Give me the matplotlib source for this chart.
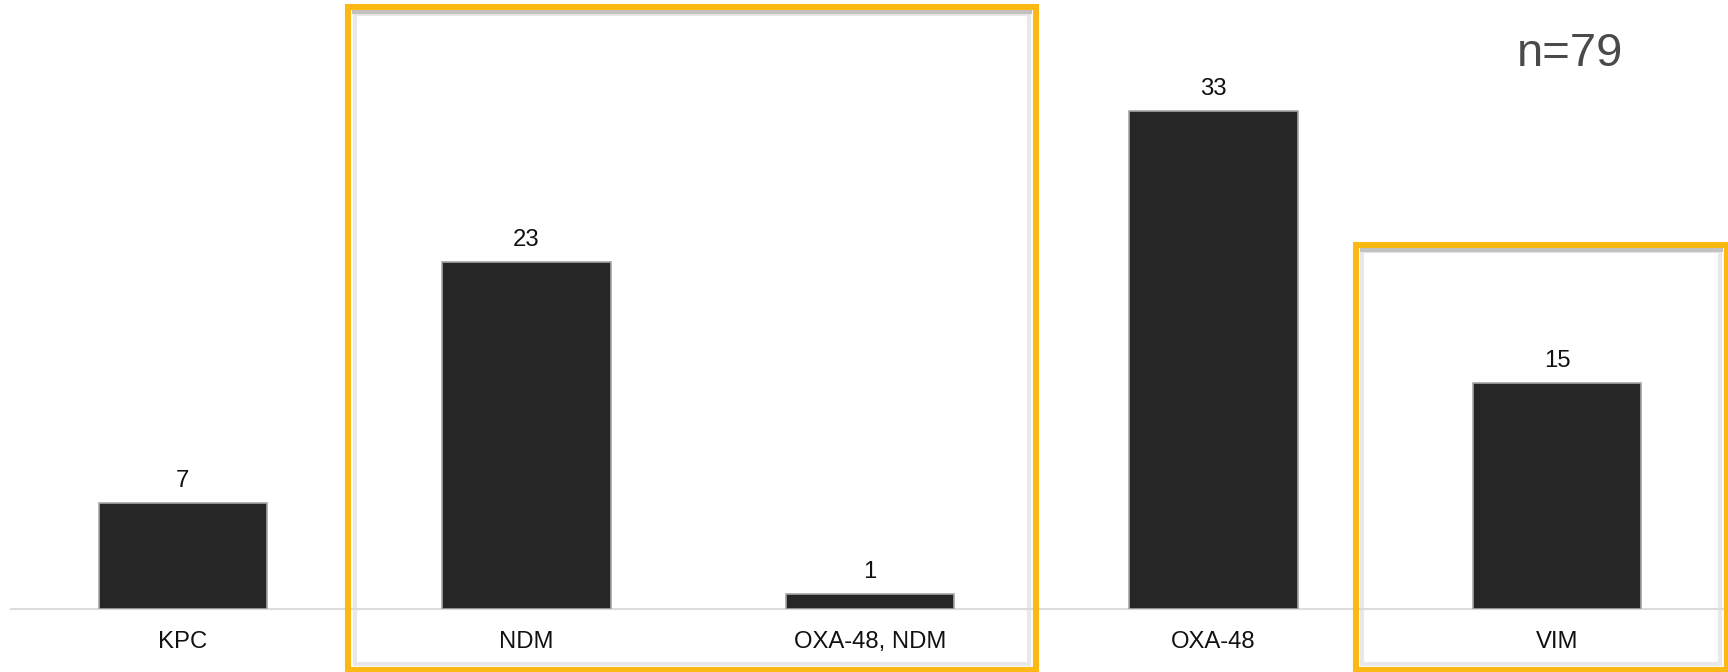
import matplotlib
matplotlib.use("Agg")
import matplotlib.pyplot as plt
from matplotlib.patches import Rectangle

plt.rcParams['font.family'] = ['Liberation Sans', 'DejaVu Sans']

# Carbapenemase types and isolate counts
categories = ["KPC", "NDM", "OXA-48, NDM", "OXA-48", "VIM"]
counts = [7, 23, 1, 33, 15]
total_label = "n=79"

# Highlight frames: (x0, x1, y0, y1) in data units (line centres)
highlight_boxes = [
    (0.481, 2.483, -4.04, 39.87),
    (3.414, 4.494, -4.04, 24.11),
]

W, H, DPI = 1729, 673, 100
fig = plt.figure(figsize=(W / DPI - 1e-4, H / DPI - 1e-4), dpi=DPI)
left_px, base_px = 11, 610
ax = fig.add_axes([left_px / W, (H - base_px) / H, 1 - left_px / W, base_px / H])

x = list(range(len(categories)))
ax.bar(x, counts, width=0.49, color="#262626", edgecolor="#a6a6a6",
       linewidth=1.2, zorder=3)

for xi, v in zip(x, counts):
    ax.annotate(str(v), (xi, v), xytext=(0, 12.2), textcoords="offset points",
                ha="center", va="baseline", fontsize=17.2, color="#111111",
                zorder=4)

ax.set_xlim(-0.5, 4.5)
ax.set_ylim(0, 40.4)
ax.set_xticks(x)
ax.set_xticklabels(categories, fontsize=17.2, color="#111111")
ax.tick_params(axis="x", length=0, pad=15.3)
ax.set_yticks([])
for side in ("top", "left", "right"):
    ax.spines[side].set_visible(False)
ax.spines["bottom"].set_color("#dcdcdc")
ax.spines["bottom"].set_linewidth(1.5)
ax.set_facecolor("none")

# pixel -> data unit conversions for the frame insets
ax_w_px = W - left_px
px_x = 5.0 / ax_w_px
px_y = 40.4 / base_px

for (x0, x1, y0, y1) in highlight_boxes:
    # soft inner shadow
    ins = 6.5
    ax.add_patch(Rectangle((x0 + ins * px_x, y0 + ins * px_y),
                           (x1 - x0) - 2 * ins * px_x,
                           (y1 - y0) - 2 * ins * px_y,
                           fill=False, edgecolor="#e8e8e8", linewidth=3,
                           clip_on=False, zorder=2))
    ax.plot([x0 + 4 * px_x, x1 - 4 * px_x],
            [y1 - 5 * px_y, y1 - 5 * px_y],
            color="#c2c2c2", linewidth=3, solid_capstyle="butt",
            clip_on=False, zorder=2)
    # orange frame
    ax.add_patch(Rectangle((x0, y0), x1 - x0, y1 - y0, fill=False,
                           edgecolor="#FDB813", linewidth=4.4,
                           joinstyle="miter", clip_on=False, zorder=5))

ax.text((1570 - left_px) / ax_w_px, (base_px - 66) / base_px, total_label,
        transform=ax.transAxes, ha="center", va="baseline",
        fontsize=34, color="#4a4a4a")

fig.savefig("out.png", dpi=DPI, facecolor="white")
